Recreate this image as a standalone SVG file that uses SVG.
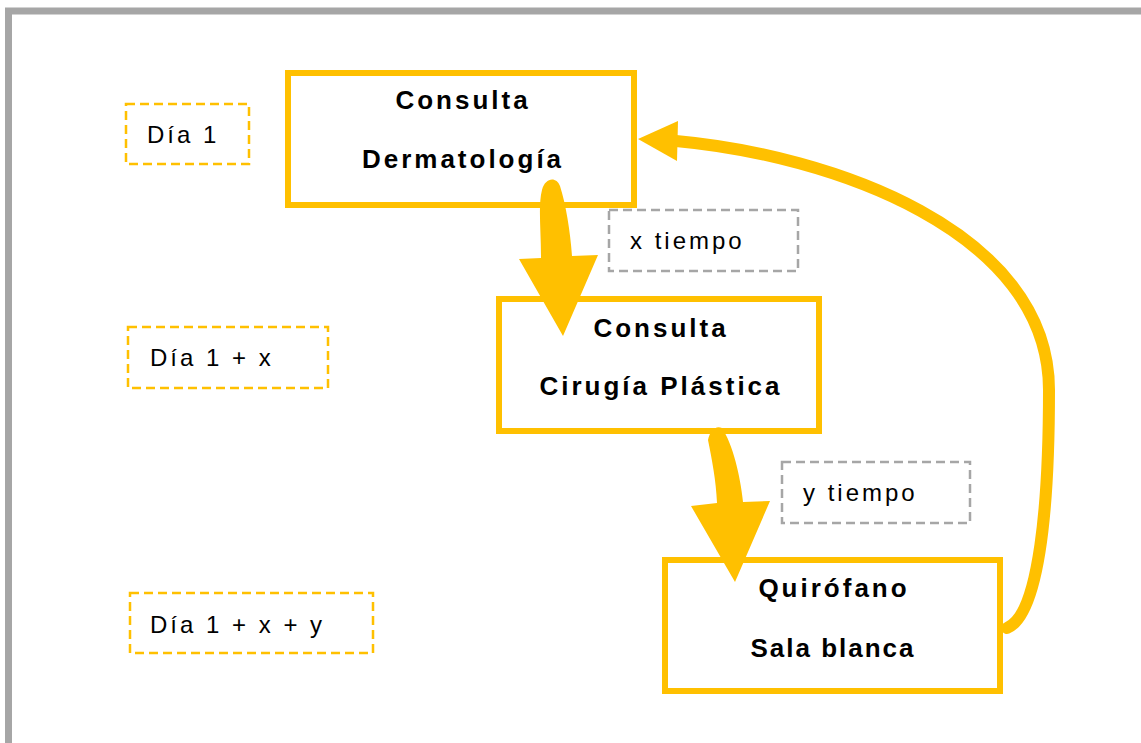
<svg xmlns="http://www.w3.org/2000/svg" width="1141" height="743" viewBox="0 0 1141 743">
<style>
.node{fill:#fff;stroke:#FFC000;stroke-width:6}
.tag{fill:none;stroke:#FFC000;stroke-width:2.5;stroke-dasharray:9 5}
.time{fill:none;stroke:#a6a6a6;stroke-width:2.5;stroke-dasharray:9 5}
.bt{font-family:"Liberation Sans",Arial,sans-serif;font-weight:bold;font-size:26px;letter-spacing:3px;text-anchor:middle;fill:#000}
.ht{font-family:"Liberation Sans",Arial,sans-serif;font-size:24px;letter-spacing:3px;fill:#000}
.arr{fill:#FFC000;stroke:none}
</style>
<rect width="1141" height="743" fill="#fff"/>
<rect x="8.5" y="11" width="1200" height="800" fill="none" stroke="#a6a6a6" stroke-width="7"/>

<g id="tag-dia1"><rect class="tag" x="126" y="104" width="123" height="60"/><text class="ht" x="147" y="143">Día 1</text></g>
<g id="tag-dia1x"><rect class="tag" x="128" y="327" width="200" height="61"/><text class="ht" x="150" y="366">Día 1 + x</text></g>
<g id="tag-dia1xy"><rect class="tag" x="130" y="593" width="243" height="60"/><text class="ht" x="150" y="633">Día 1 + x + y</text></g>
<g id="tag-xtiempo"><rect class="time" x="609" y="210" width="189" height="61"/><text class="ht" x="630" y="249">x tiempo</text></g>
<g id="tag-ytiempo"><rect class="time" x="782" y="462" width="188" height="61"/><text class="ht" x="803" y="501">y tiempo</text></g>

<g id="node-dermatologia"><rect class="node" x="288" y="73" width="346" height="132"/><text class="bt" x="463" y="109">Consulta</text><text class="bt" x="463" y="168">Dermatología</text></g>
<g id="node-cirugia"><rect class="node" x="499" y="299" width="320" height="132"/><text class="bt" x="661" y="337">Consulta</text><text class="bt" x="661" y="395">Cirugía Plástica</text></g>
<g id="node-quirofano"><rect class="node" x="665" y="560" width="335" height="131"/><text class="bt" x="834" y="597">Quirófano</text><text class="bt" x="833" y="657" style="letter-spacing:2px">Sala blanca</text></g>

<g id="connectors">
<path class="arr" d="M541,258 C541,230 538,205 542,190 C545,178 556,176 560,186 C566,205 570,230 572,256 L598,255 L563,336 L519,259 Z"/>
<path class="arr" d="M717,503 C716,480 712,460 708,440 C710,430 716,425 722,428 C733,445 740,475 743,502 L770,501 L735,582 L691,506 Z"/>
<path d="M1007,628 C1040,615 1049,500 1049,390 C1049,230 830,155 676,141" fill="none" stroke="#FFC000" stroke-width="12" stroke-linecap="round"/>
<path class="arr" d="M638,139 L678,121 L677,161 Z"/>
</g>
</svg>
